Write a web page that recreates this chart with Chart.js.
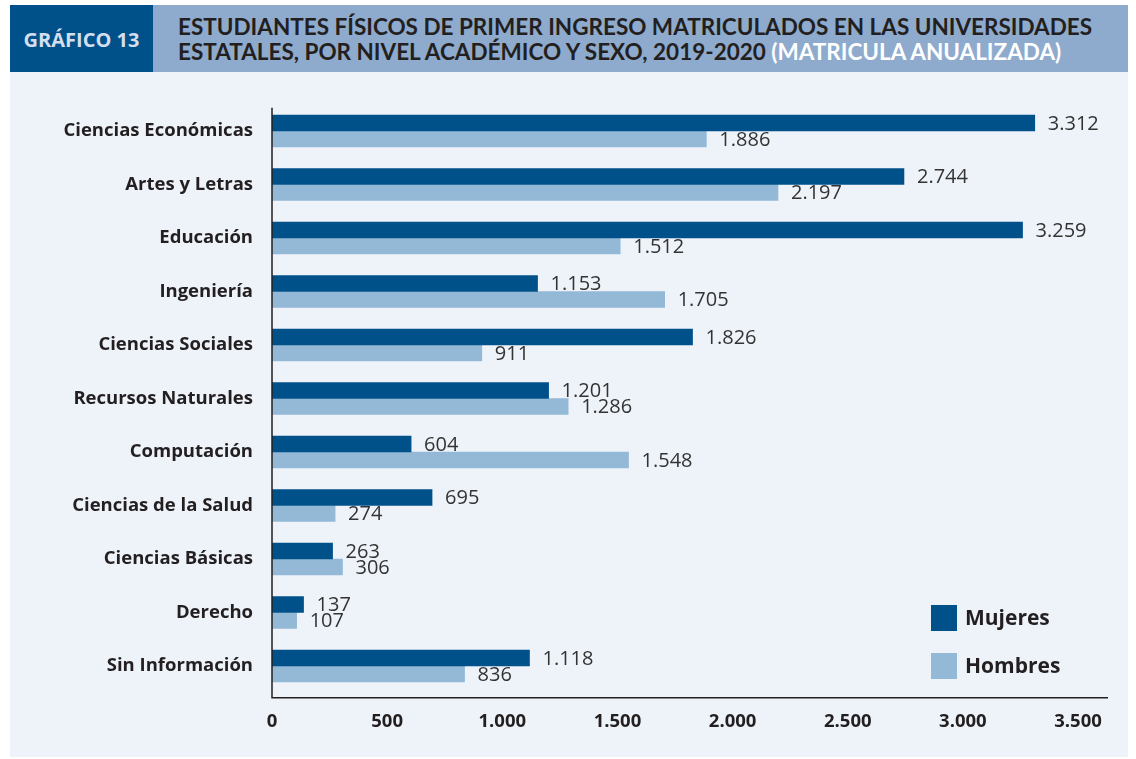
<!DOCTYPE html>
<html>
<head>
<meta charset="utf-8">
<script src="https://cdn.jsdelivr.net/npm/chart.js@4.4.0/dist/chart.umd.min.js"></script>
<style>
  body { margin: 0; background: #ffffff; width: 1136px; height: 759px; position: relative; overflow: hidden; }
  #head { position: absolute; left: 10px; top: 5px; width: 1118px; height: 67px; background: #8eaacd; }
  #tag { position: absolute; left: 0; top: 0; width: 143px; height: 67px; background: #00508a;
         color: #d3dfec; font: bold 20px "Open Sans", sans-serif; line-height: 70px; text-align: center; }
  #title { position: absolute; left: 168px; top: 9px; color: #231f20;
           font: bold 22.5px Lato, sans-serif; line-height: 25px; white-space: nowrap; }
  #title span { color: #ffffff; }
  #panel { position: absolute; left: 10px; top: 72px; width: 1118px; height: 685px; background: #eef3fa; }
</style>
</head>
<body>
<div id="head">
  <div id="tag">GRÁFICO 13</div>
  <div id="title">ESTUDIANTES FÍSICOS DE PRIMER INGRESO MATRICULADOS EN LAS UNIVERSIDADES<br>ESTATALES, POR NIVEL ACADÉMICO Y SEXO, 2019-2020 <span>(MATRICULA ANUALIZADA)</span></div>
</div>
<div id="panel"><canvas id="chart" width="1118" height="685"></canvas></div>
<script>
// categorias y series
const categories = ['Ciencias Económicas', 'Artes y Letras', 'Educación', 'Ingeniería', 'Ciencias Sociales',
  'Recursos Naturales', 'Computación', 'Ciencias de la Salud', 'Ciencias Básicas', 'Derecho', 'Sin Información'];
const mujeres = [3312, 2744, 3259, 1153, 1826, 1201, 604, 695, 263, 137, 1118];
const hombres = [1886, 2197, 1512, 1705, 911, 1286, 1548, 274, 306, 107, 836];
const xTicks = [0, 500, 1000, 1500, 2000, 2500, 3000, 3500];
const seriesNames = ['Mujeres', 'Hombres'];
const seriesColors = ['#00508a', '#94b9d6'];

const fmt = n => n.toString().replace(/\B(?=(\d{3})+(?!\d))/g, '.');
const ink = '#231f20';

// etiquetas de valor al final de cada barra
const valueLabels = {
  id: 'valueLabels',
  afterDatasetsDraw(chart) {
    const ctx = chart.ctx;
    ctx.save();
    ctx.font = '20px "Open Sans", sans-serif';
    ctx.fillStyle = '#333333';
    ctx.textBaseline = 'middle';
    chart.data.datasets.forEach((ds, i) => {
      chart.getDatasetMeta(i).data.forEach((bar, j) => {
        ctx.fillText(fmt(ds.data[j]), bar.x + 13, bar.y + 1);
      });
    });
    ctx.restore();
  }
};

// ejes y leyenda
const extras = {
  id: 'extras',
  afterDraw(chart) {
    const ctx = chart.ctx;
    const a = chart.chartArea;
    ctx.save();
    ctx.strokeStyle = ink;
    ctx.lineWidth = 1.5;
    ctx.beginPath();
    ctx.moveTo(a.left, a.top + 3.5);
    ctx.lineTo(a.left, a.bottom + 5);
    ctx.lineTo(a.right, a.bottom + 5);
    ctx.stroke();

    ctx.font = 'bold 21px "Open Sans", sans-serif';
    ctx.textBaseline = 'middle';
    seriesNames.forEach((name, i) => {
      const y = 533 + i * 48;
      ctx.fillStyle = seriesColors[i];
      ctx.fillRect(921, y, 26, 26);
      ctx.fillStyle = ink;
      ctx.fillText(name, 955, y + 14);
    });
    ctx.restore();
  }
};

new Chart('chart', {
  type: 'bar',
  data: {
    labels: categories,
    datasets: [
      { label: seriesNames[0], data: mujeres, backgroundColor: seriesColors[0], barThickness: 16 },
      { label: seriesNames[1], data: hombres, backgroundColor: seriesColors[1], barThickness: 16 }
    ]
  },
  options: {
    indexAxis: 'y',
    responsive: false,
    animation: false,
    layout: { padding: { left: 0, right: 20, top: 32.25, bottom: 0 } },
    plugins: { legend: { display: false }, tooltip: { enabled: false } },
    scales: {
      x: {
        min: 0,
        max: 3630,
        grid: { display: false, drawTicks: false },
        border: { display: false },
        afterFit: s => { s.height = 64.25; },
        afterBuildTicks: s => { s.ticks = xTicks.map(v => ({ value: v })); },
        ticks: {
          autoSkip: false,
          maxRotation: 0,
          padding: 18,
          color: ink,
          font: { family: 'Open Sans', weight: 'bold', size: 18.5 },
          callback: v => fmt(v)
        }
      },
      y: {
        grid: { display: false, drawTicks: false },
        border: { display: false },
        afterFit: s => { s.width = 262; },
        ticks: {
          padding: 19,
          color: ink,
          font: { family: 'Open Sans', weight: 'bold', size: 18.5 }
        }
      }
    }
  },
  plugins: [valueLabels, extras]
});
</script>
</body>
</html>
